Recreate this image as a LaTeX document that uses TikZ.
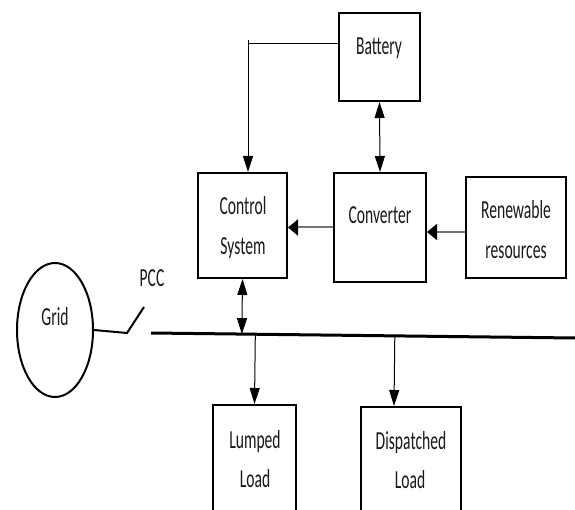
\documentclass[tikz,border=0pt]{standalone}
\usepackage{fontspec}
\newfontfamily\lblfont[FakeStretch=0.6]{Carlito}
\usetikzlibrary{arrows.meta,calc,shapes.geometric}
\begin{document}
\begin{tikzpicture}[x=1pt,y=-1pt,
  box/.style={draw=black,line width=2pt,rectangle,inner sep=0pt},
  txt/.style={font=\lblfont\fontsize{26pt}{39pt}\selectfont,text=black!90,anchor=base,inner sep=0pt},
  vtip/.tip={Triangle[length=16pt,width=10pt]},
  varrow/.style={line width=1pt,-vtip},
  vdouble/.style={line width=1pt,vtip-vtip},
  harrow/.style={line width=2pt,draw=black!55,-{Triangle[length=10pt,width=16pt,color=black]}},
]
\useasboundingbox (0,0) rectangle (575,510);
\clip (0,0) rectangle (575,510);

% blocks
\node[box,minimum width=81pt,minimum height=88pt] (bat) at (379.5,57) {};
\node[box,minimum width=89pt,minimum height=105pt] (ctrl) at (242.5,225.5) {};
\node[box,minimum width=92pt,minimum height=109pt] (conv) at (380,227.5) {};
\node[box,minimum width=100pt,minimum height=101pt] (ren) at (516,227.5) {};
\node[box,minimum width=83pt,minimum height=125pt] (lum) at (254.5,467.5) {};
\node[box,minimum width=100pt,minimum height=123pt] (dis) at (411,468.5) {};
\node[draw=black,line width=2pt,ellipse,inner sep=0pt,minimum width=76pt,minimum height=134pt] (grid) at (55,330) {};

% labels
\node[txt] (tbat) at (379,55) {Battery};
\node[txt] (tctrl1) at (243,215) {Control};
\node[txt] (tctrl2) at (243,255) {System};
\node[txt] (tconv) at (380,224) {Converter};
\node[txt] (tren1) at (516,219) {Renewable};
\node[txt] (tren2) at (516,259) {resources};
\node[txt] (tgrid) at (55,325) {Grid};
\node[txt] (tpcc) at (152,287) {PCC};
\node[txt] (tlum1) at (255,448) {Lumped};
\node[txt] (tlum2) at (255,487) {Load};
\node[txt] (tdis1) at (411,449) {Dispatched};
\node[txt] (tdis2) at (410,488) {Load};

% bus bar and grid switch
\coordinate (bl) at (151,333);
\coordinate (br) at (575,338);
\coordinate (sw1) at (127,333);
\coordinate (sw2) at (144,307);
\draw[line width=3pt] (bl) -- (br);
\draw[line width=2pt] (grid.east) -- (sw1) -- (sw2);

% battery feed to control system
\coordinate (bj) at ([yshift=-32pt]bat.north west);
\coordinate (tick) at (248,40);
\draw[line width=1pt] (bj) -- (bj -| tick);
\draw[varrow] (tick) -- (tick |- ctrl.north);

% power flow arrows
\draw[vdouble] (bat.south) -- (conv.north);
\draw[harrow] ([yshift=-4.5pt]ren.west) -- ([yshift=-4.5pt]ren.west -| conv.east);
\draw[harrow] (conv.west) -- (conv.west -| ctrl.east);
\draw[vdouble] (ctrl.south) -- ($(bl)!(ctrl.south)!(br)$);

% load feeders
\draw[varrow] ($(bl)!(lum.north)!(br)$) -- (lum.north);
\draw[varrow] ($(bl)!([xshift=-17pt]dis.north)!(br)$) -- ([xshift=-17pt]dis.north);
\end{tikzpicture}
\end{document}
